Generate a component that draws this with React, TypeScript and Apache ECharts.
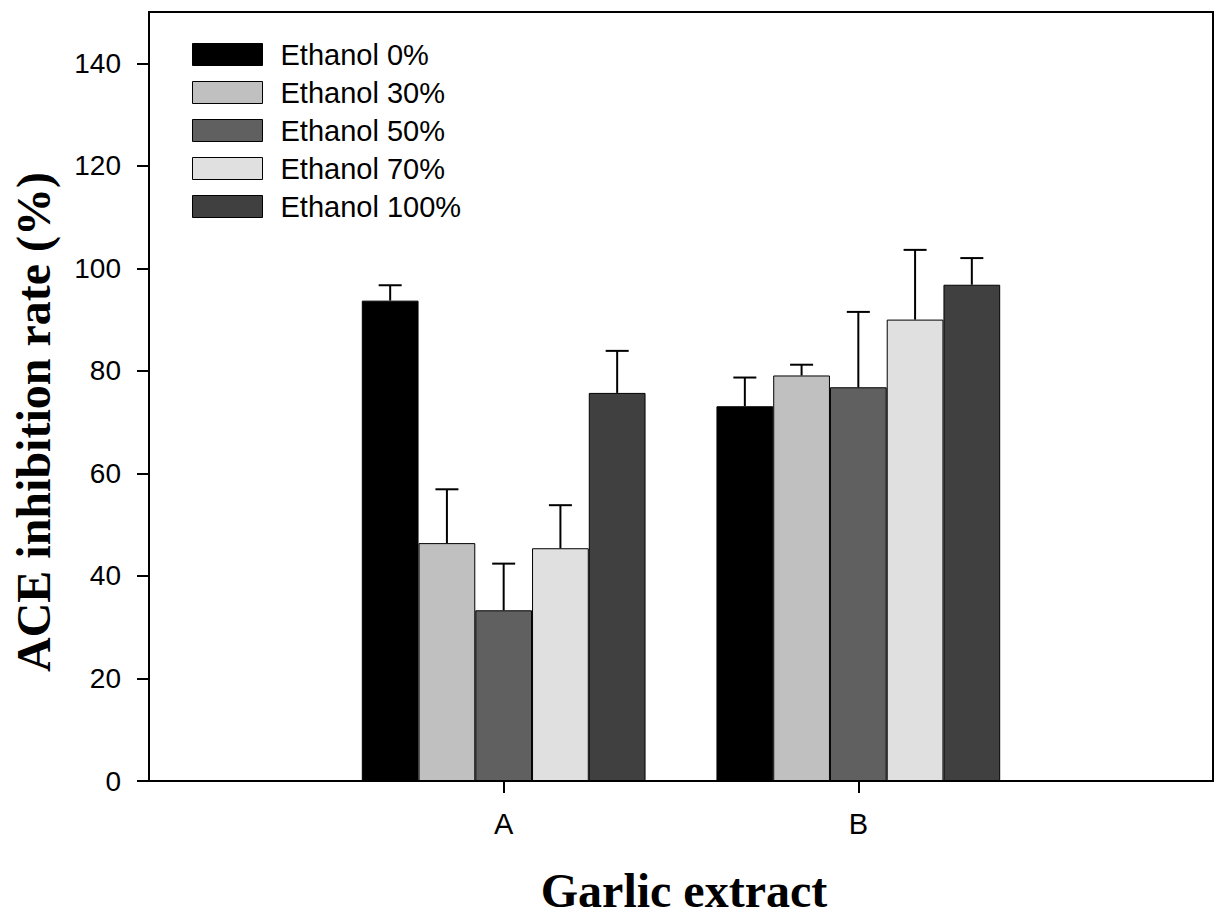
import React, { useEffect, useRef } from 'react';
import * as echarts from 'echarts';

// ---- data ----
const categories = ['A', 'B'];
const seriesNames = ['Ethanol 0%', 'Ethanol 30%', 'Ethanol 50%', 'Ethanol 70%', 'Ethanol 100%'];
const seriesColors = ['#000000', '#c0c0c0', '#606060', '#e0e0e0', '#404040'];
const ethanol0 = [93.7, 73.1];
const ethanol30 = [46.4, 79.1];
const ethanol50 = [33.3, 76.8];
const ethanol70 = [45.4, 90.0];
const ethanol100 = [75.7, 96.8];
const err0 = [3.0, 5.6];
const err30 = [10.5, 2.1];
const err50 = [9.1, 14.7];
const err70 = [8.4, 13.6];
const err100 = [8.2, 5.2];
const yTicks = [0, 20, 40, 60, 80, 100, 120, 140];
const xTitle = 'Garlic extract';
const yTitle = 'ACE inhibition rate (%)';

const values = [ethanol0, ethanol30, ethanol50, ethanol70, ethanol100];
const errors = [err0, err30, err50, err70, err100];

export default function App() {
  const ref = useRef<HTMLDivElement>(null);
  useEffect(() => {
    if (!ref.current) return;
    const chart = echarts.init(ref.current, null, { renderer: 'svg' });
    // padded category axis: empty slot on each side so that A and B sit at 1/3 and 2/3
    const axisCats = ['', ...categories, ''];
    const nSeries = seriesNames.length;

    const barSeries = seriesNames.map((name, s) => ({
      name,
      type: 'bar',
      data: [null, ...values[s], null],
      barGap: '0%',
      barCategoryGap: '20%',
      itemStyle: { color: seriesColors[s], borderColor: '#000', borderWidth: 1 },
      z: 2,
    }));

    const errSeries = seriesNames.map((name, s) => ({
      name: name + ' error',
      type: 'custom',
      z: 5,
      data: categories.map((_, i) => [i + 1, values[s][i], values[s][i] + errors[s][i]]),
      renderItem: (params: any, api: any) => {
        const cat = api.value(0);
        const v = api.value(1);
        const t = api.value(2);
        const base = api.coord([cat, v]);
        const top = api.coord([cat, t]);
        const band = api.size([1, 0])[0];
        const barW = (band * 0.8) / nSeries;
        const x = base[0] + (s - (nSeries - 1) / 2) * barW;
        const cap = 11.5;
        const st = { stroke: '#000', lineWidth: 2 };
        return {
          type: 'group',
          children: [
            { type: 'line', shape: { x1: x, y1: base[1], x2: x, y2: top[1] }, style: st },
            { type: 'line', shape: { x1: x - cap, y1: top[1], x2: x + cap, y2: top[1] }, style: st },
          ],
        };
      },
    }));

    chart.setOption({
      animation: false,
      backgroundColor: '#ffffff',
      grid: {
        left: 149,
        right: -4,
        top: 12,
        bottom: 134,
        show: true,
        borderColor: '#000',
        borderWidth: 2,
        backgroundColor: 'transparent',
      },
      legend: {
        data: seriesNames,
        orient: 'vertical',
        left: 192,
        top: 40,
        padding: 0,
        icon: 'rect',
        itemWidth: 70,
        itemHeight: 22,
        itemGap: 9,
        selectedMode: false,
        itemStyle: { borderColor: '#000', borderWidth: 1 },
        textStyle: {
          fontFamily: 'Liberation Sans',
          fontSize: 29,
          color: '#000',
          padding: [0, 0, 0, 13],
        },
      },
      xAxis: {
        type: 'category',
        data: axisCats,
        boundaryGap: false,
        axisLine: { lineStyle: { color: '#000', width: 2 } },
        axisTick: {
          show: true,
          length: 12,
          interval: (idx: number) => idx > 0 && idx <= categories.length,
          lineStyle: { color: '#000', width: 2 },
        },
        axisLabel: {
          interval: 0,
          margin: 28,
          fontFamily: 'Liberation Sans',
          fontSize: 29,
          color: '#000',
        },
        splitLine: { show: false },
      },
      yAxis: {
        type: 'value',
        min: 0,
        max: 150,
        interval: 20,
        axisLine: { show: true, lineStyle: { color: '#000', width: 2 } },
        axisTick: {
          show: true,
          length: 12,
          customValues: yTicks,
          lineStyle: { color: '#000', width: 2 },
        },
        axisLabel: {
          customValues: yTicks,
          margin: 28,
          fontFamily: 'Liberation Sans',
          fontSize: 28,
          color: '#000',
        },
        splitLine: { show: false },
      },
      graphic: [
        {
          type: 'text',
          x: 684,
          y: 890,
          style: {
            text: xTitle,
            fontFamily: 'Liberation Serif',
            fontWeight: 'bold',
            fontSize: 48,
            fill: '#000',
            align: 'center',
            verticalAlign: 'middle',
          },
        },
        {
          type: 'text',
          x: 33,
          y: 422,
          rotation: Math.PI / 2,
          style: {
            text: yTitle,
            fontFamily: 'Liberation Serif',
            fontWeight: 'bold',
            fontSize: 48,
            fill: '#000',
            align: 'center',
            verticalAlign: 'middle',
          },
        },
      ],
      series: [...barSeries, ...errSeries],
    });
    return () => chart.dispose();
  }, []);
  return (
    <div
      ref={ref}
      style={{ position: 'absolute', left: 0, top: 0, width: 1216, height: 915 }}
    />
  );
}
